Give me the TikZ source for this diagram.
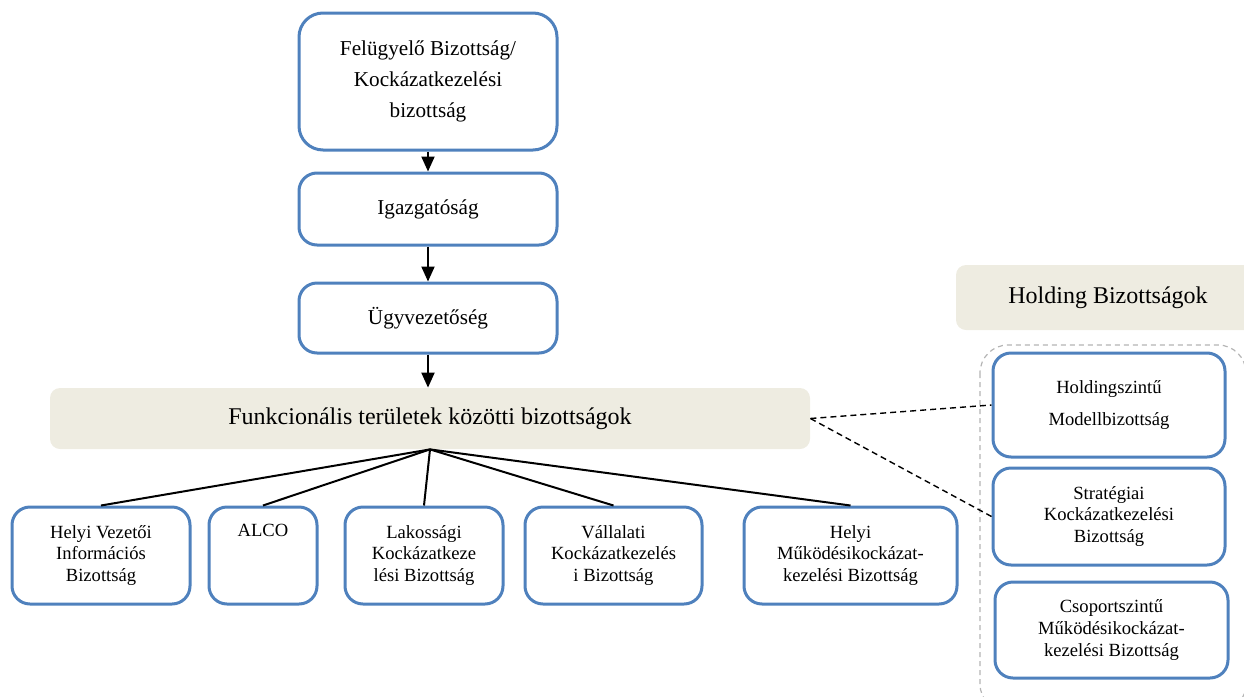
\documentclass[tikz,border=0pt]{standalone}
\usepackage{fontspec}
\setmainfont{Liberation Serif}
\usetikzlibrary{arrows.meta}

\definecolor{keret}{HTML}{4F81BD}
\definecolor{bezs}{HTML}{EEECE1}
\definecolor{szurke}{HTML}{B4B4B4}

\begin{document}
\begin{tikzpicture}[x=0.5pt, y=-0.5pt,
    doboz/.style={draw=keret, line width=1.5pt, rounded corners=9pt, fill=white, inner sep=0pt, align=center},
    nagybetu/.style={font=\fontsize{10.6}{13.5}\selectfont},
    kisbetu/.style={font=\fontsize{9.3}{10.8}\selectfont},
    sav/.style={fill=bezs, rounded corners=5pt, inner sep=0pt, align=center},
    nyil/.style={-{Triangle[width=6.5pt,length=7.5pt]}, line width=1pt},
    vonal/.style={line width=1pt},
    szagg/.style={dash pattern=on 3pt off 2pt, line width=0.7pt}]
            \useasboundingbox (0,0) rectangle (1244,697);
            \clip (0,0) rectangle (1244,697);

            \draw[szurke, dash pattern=on 2.5pt off 2pt, line width=0.6pt, rounded corners=14pt] (980,345) rectangle (1246,712);

            \node[doboz, nagybetu, rounded corners=12pt, minimum width=129pt, minimum height=68.5pt] (felugy) at (428,81.5) {Felügyelő Bizottság/\\[2.2pt]Kockázatkezelési\\[2.2pt]bizottság};
            \node[doboz, nagybetu, minimum width=129pt, minimum height=36pt] (igazg) at (428,209) {Igazgatóság};
            \node[doboz, nagybetu, minimum width=129pt, minimum height=35pt] (ugyv) at (428,318) {Ügyvezetőség};
            \node[sav, font=\fontsize{12}{14}\selectfont, minimum width=380pt, minimum height=30.5pt] (funk) at (430,418.5) {Funkcionális területek közötti bizottságok};

            \node[doboz, kisbetu, minimum width=89pt, minimum height=48.5pt] (helyivez) at (101,555.5) {Helyi Vezetői\\Információs\\Bizottság};
            \node[doboz, kisbetu, minimum width=54pt, minimum height=48.5pt] (alco) at (263,555.5) {ALCO\\\strut\\\strut};
            \node[doboz, kisbetu, minimum width=79pt, minimum height=48.5pt] (lakos) at (424,555.5) {Lakossági\\Kockázatkeze\\lési Bizottság};
            \node[doboz, kisbetu, minimum width=88.5pt, minimum height=48.5pt] (vall) at (613.5,555.5) {Vállalati\\Kockázatkezelés\\i Bizottság};
            \node[doboz, kisbetu, minimum width=106.5pt, minimum height=48.5pt] (helyimuk) at (850.5,555.5) {Helyi\\Működésikockázat-\\kezelési Bizottság};

            \node[sav, font=\fontsize{12}{14.5}\selectfont, minimum width=152pt, minimum height=32.5pt] (holding) at (1108,297.5) {Holding Bizottságok};
            \node[doboz, kisbetu, minimum width=116pt, minimum height=52pt] (modell) at (1109,405) {Holdingszintű\\[5pt]Modellbizottság};
            \node[doboz, kisbetu, minimum width=116pt, minimum height=48.5pt] (strat) at (1109,516.5) {Stratégiai\\Kockázatkezelési\\Bizottság};
            \node[doboz, kisbetu, minimum width=116.5pt, minimum height=48pt] (csop) at (1111.5,630) {Csoportszintű\\Működésikockázat-\\kezelési Bizottság};

            \draw[nyil] (felugy) -- (igazg);
            \draw[nyil] (igazg) -- (ugyv);
            \draw[nyil] (ugyv.south) -- (ugyv.south |- funk.north);

            \draw[vonal] (funk.south) -- (helyivez.north);
            \draw[vonal] (funk.south) -- (alco.north);
            \draw[vonal] (funk.south) -- (lakos.north);
            \draw[vonal] (funk.south) -- (vall.north);
            \draw[vonal] (funk.south) -- (helyimuk.north);

            \draw[szagg] (funk.east) -- (modell.west);
            \draw[szagg] (funk.east) -- (strat.west);
        \end{tikzpicture}
\end{document}
